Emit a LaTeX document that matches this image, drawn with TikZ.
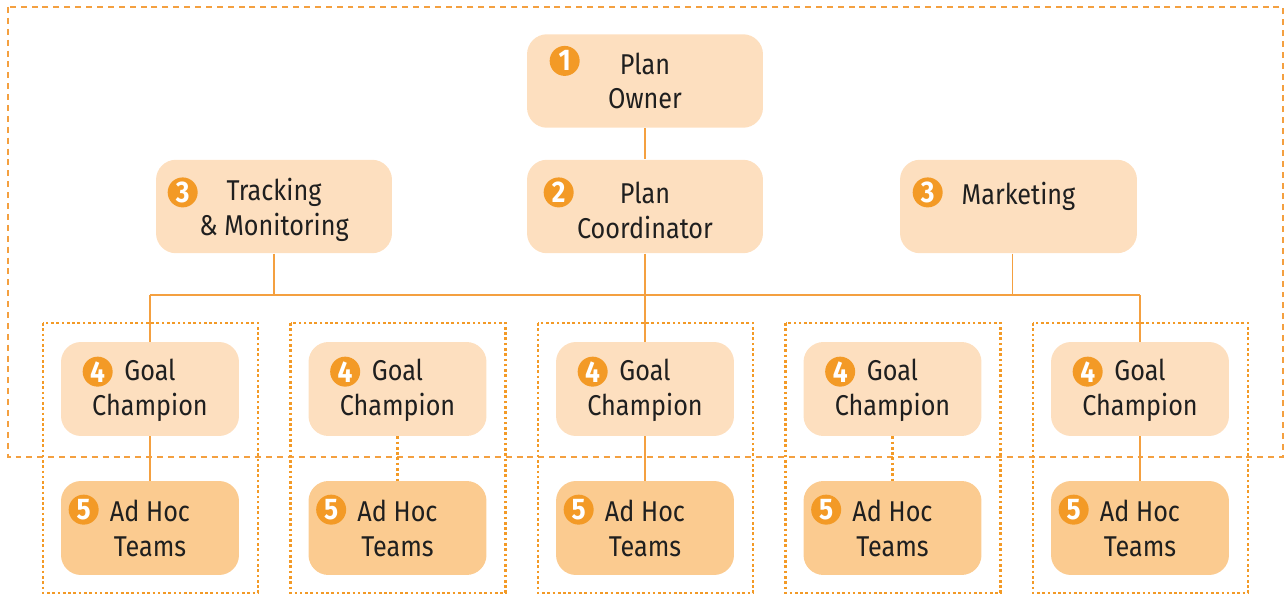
\documentclass[tikz,border=0pt]{standalone}
\usepackage{fontspec}
\setmainfont{Fira Sans}[FakeStretch=0.88]
\usetikzlibrary{positioning,calc}

\definecolor{boxlight}{HTML}{FDDFBF}
\definecolor{boxdark}{HTML}{FBCB90}
\definecolor{linkline}{HTML}{F4A040}
\definecolor{badgefill}{HTML}{F39A26}

\newcommand\firstline[1]{\rule{0pt}{#1}}% pushes the text down a little

\tikzset{
  role/.style={draw=none, fill=boxlight, rounded corners=0.4cm, align=center,
    minimum width=4.72cm, minimum height=1.87cm, inner sep=0pt,
    font=\fontsize{16.3}{19.8}\selectfont, text=black!88},
  goalbox/.style={role, minimum width=3.56cm, minimum height=1.88cm},
  teambox/.style={goalbox, fill=boxdark},
  badge/.style={circle, fill=badgefill, text=white, inner sep=0pt,
    minimum size=0.6cm, font=\fontsize{17}{17}\bfseries\selectfont},
  link/.style={draw=linkline, line width=0.85pt},
  outerframe/.style={draw=linkline, line width=0.9pt, dash pattern=on 3.4pt off 2.8pt},
  colframe/.style={draw=badgefill, line width=1.6pt, dash pattern=on 1.5pt off 1.5pt},
}

\begin{document}
\begin{tikzpicture}[x=0.02cm,y=-0.02cm]
\useasboundingbox (0,0) rectangle (1288,594);

% frames
\draw[outerframe] (8,7) rectangle (1283,457);
\foreach \i in {1,...,5} {
  \pgfmathsetmacro\cx{150+247.5*(\i-1)}
  \draw[colframe] (\cx-107,323) rectangle (\cx+108,593);
}

% top of the chart
\node[role] (owner) at (645,81) {Plan\\Owner};
\node[role] (coord) at (645,206.5) {\firstline{17pt}Plan\\Coordinator};
\node[role] (track) at (274,206.5) {\firstline{17pt}Tracking\\\& Monitoring};
\node[role, minimum width=4.74cm] (mkt) at (1018.5,206.5) {\firstline{17pt}Marketing\\\mbox{}};
\coordinate (bus) at (0,295);

% goal columns
\foreach \i in {1,...,5} {
  \pgfmathsetmacro\cx{150+247.5*(\i-1)}
  \node[goalbox] (goal\i) at (\cx,389) {\firstline{14pt}Goal\\Champion};
  \node[teambox] (team\i) at (\cx,528) {\firstline{13pt}Ad Hoc\\Teams};
  \node[badge] at ([shift={(37,30)}]goal\i.north west) {4};
  \node[badge] at ([shift={(23,29)}]team\i.north west) {5};
}

% badges
\node[badge] at ([shift={(38,27)}]owner.north west) {1};
\node[badge] at ([shift={(32,33)}]coord.north west) {2};
\node[badge] at ([shift={(27,33)}]track.north west) {3};
\node[badge] at ([shift={(28,33)}]mkt.north west) {3};

% connectors
\draw[link] (owner.south) -- (coord.north);
\draw[link] (coord.south) -- (goal3.north);
\draw[link] (goal1.north |- bus) -- (goal5.north |- bus);
\draw[link] (track.south) -- (track.south |- bus);
\draw[link] ([xshift=-3.5]mkt.south) -- ([xshift=-3.5]mkt.south |- bus);
\draw[link] (goal1.north |- bus) -- (goal1.north);
\draw[link] (goal5.north |- bus) -- (goal5.north);
\foreach \i in {1,3,5} { \draw[link] (goal\i.south) -- (team\i.north); }
\foreach \i in {2,4} { \draw[colframe] (goal\i.south) -- (team\i.north); }
\end{tikzpicture}
\end{document}
